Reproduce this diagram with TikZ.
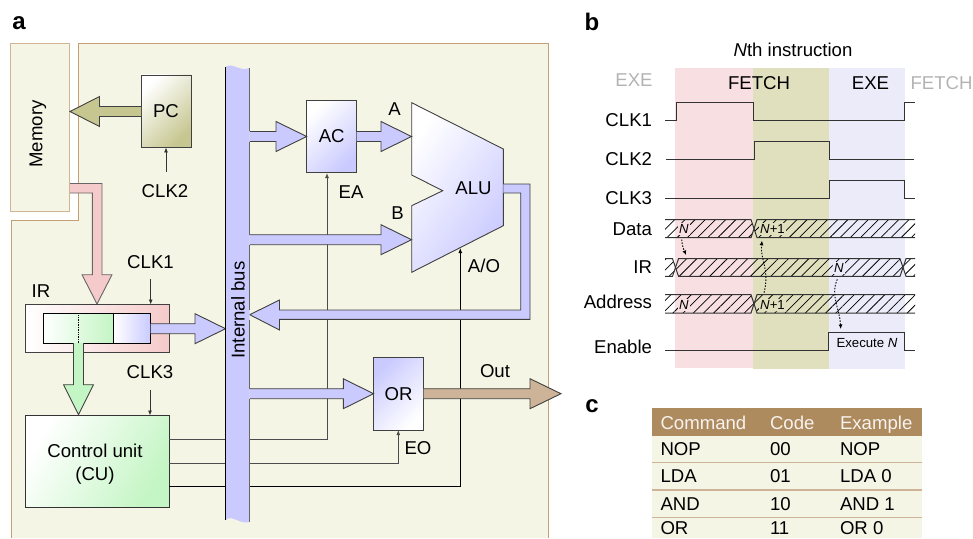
\documentclass[tikz,border=0pt]{standalone}
\usepackage{fontspec}
\setmainfont{Liberation Sans}
\usetikzlibrary{patterns.meta,arrows.meta,shadings}
\definecolor{panelbg}{HTML}{F5F5E6}
\definecolor{paneledge}{HTML}{C49E74}
\definecolor{memedge}{HTML}{CFB594}
\definecolor{fatblue}{HTML}{CACAFF}
\definecolor{fatpink}{HTML}{F5CACA}
\definecolor{fatgreen}{HTML}{C4F5C4}
\definecolor{fatolive}{HTML}{C6C690}
\definecolor{fattan}{HTML}{CDB498}
\definecolor{bgpink}{HTML}{F8E0E2}
\definecolor{bgolive}{HTML}{E0E0BF}
\definecolor{bglav}{HTML}{EBEBFA}
\definecolor{hdr}{HTML}{AE8A5F}
\definecolor{txtgray}{HTML}{B3B3B3}
\tikzset{
  every node/.style={font=\fontsize{18.6}{23}\selectfont, inner sep=0pt, outer sep=0pt, align=center},
  fat/.style={draw=black!75, line width=0.9pt, line join=miter},
  wire/.style={draw=black!70, line width=0.9pt},
  tick/.style={draw=black!80, line width=0.8pt, -{Latex[length=5pt,width=4pt]}},
  sig/.style={draw=black!80, line width=1pt},
  hop/.style={draw=black, line width=0.9pt, dash pattern=on 1.5pt off 1.5pt, -{Latex[length=4.5pt,width=4pt]}},
  blk/.style={draw=black!75, line width=0.9pt, minimum width=50pt, minimum height=72.5pt},
  panelletter/.style={font=\fontsize{24}{26}\selectfont\bfseries},
  small/.style={font=\fontsize{13.2}{15}\selectfont},
  tbl/.style={anchor=base west},
  sigl/.style={anchor=east},
  hatch/.style={pattern={Lines[angle=45,distance=7.2pt,line width=0.75pt]}, pattern color=black}
}
% horizontal fat arrow: colour, start x, head base x, tip x, centre y
\newcommand{\HFat}[5]{\draw[fat,fill=#1] (#2,#5-5) -- (#3,#5-5) -- (#3,#5-15) -- (#4,#5) -- (#3,#5+15) -- (#3,#5+5) -- (#2,#5+5);}
% vertical fat arrow: colour, start y, head base y, tip y, centre x
\newcommand{\VFat}[5]{\draw[fat,fill=#1] (#5-5,#2) -- (#5-5,#3) -- (#5-15,#3) -- (#5,#4) -- (#5+15,#3) -- (#5+5,#3) -- (#5+5,#2);}
% hatched bus segments
\newcommand{\BusSeg}[5]{%
  \fill[hatch] (#1,#3) -- (#2,#3) -- (#2+#5,#3/2+#4/2) -- (#2,#4) -- (#1,#4) -- cycle;
  \draw[sig] (#1,#3) -- (#2,#3) -- (#2+#5,#3/2+#4/2) -- (#2,#4) -- (#1,#4);}
\newcommand{\BusSegB}[6]{%
  \fill[hatch] (#1-#5,#3/2+#4/2) -- (#1,#3) -- (#2,#3) -- (#2+#6,#3/2+#4/2) -- (#2,#4) -- (#1,#4) -- cycle;
  \draw[sig] (#1,#3) -- (#2,#3) -- (#2+#6,#3/2+#4/2) -- (#2,#4) -- (#1,#4) -- (#1-#5,#3/2+#4/2) -- cycle;}
\newcommand{\BusSegC}[4]{%
  \fill[hatch] (#1-3,#3/2+#4/2) -- (#1,#3) -- (#2,#3) -- (#2,#4) -- (#1,#4) -- cycle;
  \draw[sig] (#2,#3) -- (#1,#3) -- (#1-3,#3/2+#4/2) -- (#1,#4) -- (#2,#4);}
\begin{document}
\begin{tikzpicture}[x=1pt,y=-1pt]
\useasboundingbox (0,0) rectangle (973,538);
% ---------- panel a background
\fill[panelbg] (11,538) -- (11,220.5) -- (78.5,220.5) -- (78.5,43.5) -- (548.5,43.5) -- (548.5,538) -- cycle;
\draw[paneledge,line width=1pt] (11,538) -- (11,220.5) -- (78.5,220.5) -- (78.5,43.5) -- (548.5,43.5) -- (548.5,538);
\node[panelletter] (la) at (19,23) {a};
\node[panelletter] (lb) at (592,22) {b};
\node[panelletter] (lc) at (592,406) {c};
% Memory
\node[draw=memedge,fill=panelbg,line width=1.3pt,minimum width=59pt,minimum height=168pt] (Mem) at (40,127.5) {};
\node[rotate=90] (Memt) at (38,134) {Memory};
% blocks and wires (below the bus and the fat arrows)
\node[draw=black!80,line width=0.9pt,minimum width=144pt,minimum height=91.5pt,shade,shading=axis,left color=white,right color=fatgreen,shading angle=60] (CU) at (97,461.2) {};
\node (CUt) at (95,464) {Control unit\\(CU)};
\node[blk,shade,shading=axis,left color=white,right color=fatblue,shading angle=45] (AC) at (331.7,136.5) {AC};
\node[blk,shade,shading=axis,left color=fatblue,right color=white,shading angle=45] (OR) at (398.5,393.7) {OR};
\coordinate (ea1) at (169,439);
\coordinate (eo1) at (169,463.3);
\coordinate (ao1) at (169,486.7);
\coordinate (eaT) at (327,173);
\coordinate (aoT) at (460.3,248);
\draw[wire,-{Latex[length=5pt,width=4pt]}] (ea1) -- (327,439) -- (eaT);
\draw[wire,-{Latex[length=5pt,width=4pt]}] (eo1) -- (398.3,463.3) -- (398.3,430);
\draw[wire,draw=black,-{Latex[length=5pt,width=4pt]}] (ao1) -- (460.3,486.7) -- (aoT);
% PC
\node[blk,shade,shading=axis,left color=white,right color=fatolive,shading angle=45] (PC) at (166,111.2) {PC};
\HFat{fatolive}{141}{99.5}{70}{111.5}
\node (clk2) at (165,191) {CLK2};
\coordinate (clk2a) at (166,172);
\draw[tick] (clk2a) -- (PC.south);
% pink arrow from memory
\draw[fat,fill=fatpink,draw=black!60] (70,183.5) -- (102,183.5) -- (102,274.7) -- (112,274.7) -- (97,304) -- (82,274.7) -- (92.3,274.7) -- (92.3,193) -- (70,193);
% IR
\node[draw=black!75,line width=0.9pt,minimum width=144.3pt,minimum height=47.5pt,shade,shading=axis,left color=white,right color=fatpink,shading angle=90] (IRb) at (97.1,328.5) {};
\node[draw=black,line width=0.9pt,minimum width=70pt,minimum height=29.5pt,shade,shading=axis,left color=white,right color=fatgreen,shading angle=90] (IRg) at (78.5,328.2) {};
\node[draw=black,line width=0.9pt,minimum width=37.2pt,minimum height=29.5pt,shade,shading=axis,left color=white,right color=fatblue,shading angle=90] (IRu) at (132.1,328.2) {};
\draw[black,line width=0.7pt,densely dotted] (IRg.north) -- (IRg.south);
\node (irl) at (41,291) {IR};
\node (clk1) at (150.5,262) {CLK1};
\coordinate (clk1a) at (150.7,279);
\draw[tick] (clk1a) -- (150.7,304.5);
\node (clk3) at (150,372) {CLK3};
\coordinate (clk3a) at (150,390);
\draw[tick] (clk3a) -- (150,415.5);
\VFat{fatgreen}{343}{384.7}{414.5}{78.5}
\HFat{fatblue}{150.7}{195}{225.5}{328.7}
% ALU
\draw[draw=black!75,line width=0.9pt,shade,shading=axis,left color=white,right color=fatblue,shading angle=55]
  (411.7,102.7) -- (503.3,149) -- (503.3,225.7) -- (411.7,272.3) -- (411.7,205.7) -- (442.7,190.7) -- (411.7,175) -- cycle;
\node (ALU) at (473.5,188) {ALU};
% bus arrows
\HFat{fatblue}{249.5}{276}{306.7}{136.5}
\HFat{fatblue}{356.7}{381}{411.5}{136.5}
\HFat{fatblue}{249.5}{381}{411.5}{239.7}
\HFat{fatblue}{249.5}{343.3}{373.5}{393.7}
\draw[fat,fill=fattan] (423.5,388.7) -- (530,388.7) -- (530,378.7) -- (561,393.7) -- (530,408.7) -- (530,398.7) -- (423.5,398.7);
\draw[fat,fill=fatblue] (503.3,184) -- (530,184) -- (530,319.3) -- (279.5,319.3) -- (279.5,330) -- (249.7,314.7) -- (279.5,300) -- (279.5,310) -- (520.7,310) -- (520.7,193) -- (503.3,193);
% bus
\fill[fatblue] (225.5,66.7) .. controls (232,62) and (240,72) .. (249.5,68) -- (249.5,522) .. controls (240,525) and (232,514) .. (225.5,520) -- cycle;
\draw[black,line width=0.9pt] (225.5,67) -- (225.5,520);
\draw[black!60,line width=0.9pt] (249.5,68) -- (249.5,131);
\draw[black!60,line width=0.9pt] (249.5,141.7) -- (249.5,234.8);
\draw[black!60,line width=0.9pt] (249.5,244.5) -- (249.5,310);
\draw[black!60,line width=0.9pt] (249.5,319.5) -- (249.5,388.7);
\draw[black!60,line width=0.9pt] (249.5,398.7) -- (249.5,522);
\node[rotate=90] (bus) at (238,310) {Internal bus};
% labels in panel a
\node (A) at (394.5,109) {A};
\node (B) at (397.5,213.5) {B};
\node (EA) at (351,192) {EA};
\node (AO) at (484,265.5) {A/O};
\node (EO) at (418,448) {EO};
\node (Out) at (495,371.5) {Out};
% ---------- panel b
\fill[bgpink] (675,67.7) rectangle (753,367.5);
\fill[bgolive] (753,67.7) rectangle (829,368.5);
\fill[bglav] (829,67.7) rectangle (905,368.5);
\node (nth) at (793,50) {\textit{N}th instruction};
\node[text=txtgray] (e1) at (634,80) {EXE};
\node (f1) at (759,83) {FETCH};
\node (e2) at (870.5,83) {EXE};
\node[text=txtgray] (f2) at (941.5,83) {FETCH};
\node[sigl] (s1) at (652,120.5) {CLK1};
\node[sigl] (s2) at (652,159.5) {CLK2};
\node[sigl] (s3) at (652,198.5) {CLK3};
\node[sigl] (s4) at (652,229) {Data};
\node[sigl] (s5) at (652,267) {IR};
\node[sigl] (s6) at (652,302) {Address};
\node[sigl] (s7) at (652,347) {Enable};
\draw[sig] (665,120) -- (676,120) -- (676,102.3) -- (753,102.3) -- (753,120) -- (904,120) -- (904,102.3) -- (915,102.3);
\draw[sig] (666,159.3) -- (754,159.3) -- (754,141.7) -- (829,141.7) -- (829,159.3) -- (914,159.3);
\draw[sig] (665,198.3) -- (829,198.3) -- (829,180.7) -- (904.5,180.7) -- (904.5,198.3) -- (915,198.3);
\BusSeg{665}{751}{219.7}{237.7}{3}
\BusSegC{757}{915}{219.7}{237.7}
\BusSeg{665}{672.5}{258.7}{276.3}{3}
\BusSegB{678.5}{900}{258.7}{276.3}{3}{3}
\BusSegC{906}{915}{258.7}{276.3}
\BusSeg{665}{751}{294.7}{313}{3}
\BusSegC{757}{915}{294.7}{313}
\draw[sig] (665,350) -- (828.3,350) -- (828.3,332) -- (904.3,332) -- (904.3,350) -- (915,350);
\node[small] (ex) at (867,342.7) {Execute \textit{N}};
\node[small,fill=bgpink,inner sep=1pt] (n1) at (684,229) {\textit{N}};
\node[small,fill=bgolive,inner sep=1pt] (n2) at (772.5,229) {\textit{N}+1};
\node[small,fill=bglav,inner sep=1pt] (n3) at (839,268) {\textit{N}};
\node[small,fill=bgpink,inner sep=1pt] (n4) at (684,305) {\textit{N}};
\node[small,fill=bgolive,inner sep=1pt] (n5) at (772.5,305) {\textit{N}+1};
\coordinate (h1) at (686,255);
\coordinate (h2) at (764,292.7);
\coordinate (h3) at (762,240.7);
\coordinate (h4) at (837.3,279.3);
\coordinate (h5) at (840.7,329);
\draw[hop] (681.7,239.5) .. controls (682,246) and (684,250) .. (h1);
\draw[hop] (h2) .. controls (770,270) and (760,260) .. (h3);
\draw[hop] (h4) .. controls (830,295) and (840,310) .. (h5);
% ---------- panel c
\fill[panelbg] (652.3,408) rectangle (921.7,538);
\fill[hdr] (652.3,408) rectangle (921.7,435.7);
\draw[fattan,line width=1.2pt] (652.3,462.7) -- (921.7,462.7);
\draw[fattan,line width=1.2pt] (652.3,490) -- (921.7,490);
\draw[fattan,line width=1.2pt] (652.3,517.3) -- (921.7,517.3);
\node[tbl,text=white!90!hdr] (t01) at (660.5,429) {Command};
\node[tbl,text=white!90!hdr] (t02) at (770,429) {Code};
\node[tbl,text=white!90!hdr] (t03) at (840,429) {Example};
\node[tbl] (t11) at (660.5,455.7) {NOP};
\node[tbl] (t12) at (770,455.7) {00};
\node[tbl] (t13) at (840,455.7) {NOP};
\node[tbl] (t21) at (660.5,482.7) {LDA};
\node[tbl] (t22) at (770,482.7) {01};
\node[tbl] (t23) at (840,482.7) {LDA 0};
\node[tbl] (t31) at (660.5,510) {AND};
\node[tbl] (t32) at (770,510) {10};
\node[tbl] (t33) at (840,510) {AND 1};
\node[tbl] (t41) at (660.5,534.5) {OR};
\node[tbl] (t42) at (770,534.5) {11};
\node[tbl] (t43) at (840,534.5) {OR 0};
\end{tikzpicture}
\end{document}
